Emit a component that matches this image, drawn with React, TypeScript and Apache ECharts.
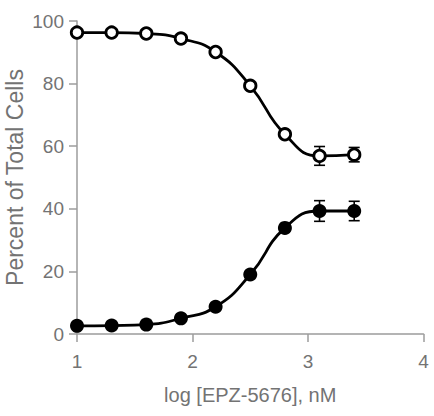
import React, { useEffect, useRef } from "react";
import * as echarts from "echarts";

const doses = [1, 1.3, 1.6, 1.9, 2.2, 2.5, 2.8, 3.1, 3.4];
const openValues = [96.3, 96.3, 96.0, 94.4, 90.1, 79.3, 63.8, 56.9, 57.3];
const openErrors = [0, 0, 0, 0, 0, 0, 0, 3.0, 2.3];
const filledValues = [2.6, 2.7, 3.0, 5.0, 8.7, 19.0, 33.9, 39.3, 39.3];
const filledErrors = [0, 0, 0, 0, 0, 0, 0, 3.3, 3.1];
const xTicks = [1, 2, 3, 4];
const yTicks = [0, 20, 40, 60, 80, 100];

const AXIS = "#9c9c9c";
const TEXT = "#737373";
const FONT = "'Liberation Sans', Arial, Helvetica, sans-serif";

function errorData(vals: number[], errs: number[]) {
  return doses
    .map((x, i) => [x, vals[i] - errs[i], vals[i] + errs[i], errs[i]])
    .filter((d) => d[3] > 0);
}

function renderError(params: any, api: any) {
  const x = api.value(0);
  const lo = api.coord([x, api.value(1)]);
  const hi = api.coord([x, api.value(2)]);
  const hw = 5.5;
  const style = { stroke: "#000", lineWidth: 1.6 };
  return {
    type: "group",
    children: [
      { type: "line", shape: { x1: lo[0], y1: lo[1], x2: hi[0], y2: hi[1] }, style },
      { type: "line", shape: { x1: lo[0] - hw, y1: lo[1], x2: lo[0] + hw, y2: lo[1] }, style },
      { type: "line", shape: { x1: hi[0] - hw, y1: hi[1], x2: hi[0] + hw, y2: hi[1] }, style },
    ],
  };
}

export default function App() {
  const ref = useRef<HTMLDivElement>(null);
  useEffect(() => {
    document.body.style.margin = "0";
    if (!ref.current) return;
    const chart = echarts.init(ref.current, undefined, { renderer: "svg" });
    chart.setOption({
      animation: false,
      backgroundColor: "#fff",
      grid: { left: 77, right: 10.5, top: 21, bottom: 82, outerBoundsMode: "none", containLabel: false },
      xAxis: {
        type: "value",
        min: xTicks[0],
        max: xTicks[xTicks.length - 1],
        interval: 1,
        name: "log [EPZ-5676], nM",
        nameLocation: "middle",
        nameGap: 51,
        nameMoveOverlap: false,
        nameTextStyle: { color: TEXT, fontSize: 20, fontFamily: FONT },
        axisLine: { onZero: false, lineStyle: { color: AXIS, width: 1.5 } },
        axisTick: { length: 8, lineStyle: { color: AXIS, width: 1.5 } },
        axisLabel: { color: TEXT, fontSize: 19, fontFamily: FONT, margin: 18 },
        splitLine: { show: false },
      },
      yAxis: {
        type: "value",
        min: yTicks[0],
        max: yTicks[yTicks.length - 1],
        interval: 20,
        name: "Percent of Total Cells",
        nameLocation: "middle",
        nameGap: 51,
        nameMoveOverlap: false,
        nameTextStyle: { color: TEXT, fontSize: 23, fontFamily: FONT },
        axisLine: { show: true, onZero: false, lineStyle: { color: AXIS, width: 1.5 } },
        axisTick: { show: true, length: 8, lineStyle: { color: AXIS, width: 1.5 } },
        axisLabel: { color: TEXT, fontSize: 19, fontFamily: FONT, margin: 13 },
        splitLine: { show: false },
      },
      series: [
        {
          type: "custom",
          renderItem: renderError,
          data: errorData(openValues, openErrors),
          z: 1,
        },
        {
          type: "custom",
          renderItem: renderError,
          data: errorData(filledValues, filledErrors),
          z: 1,
        },
        {
          type: "line",
          data: doses.map((x, i) => [x, openValues[i]]),
          smooth: 0.5,
          symbol: "circle",
          symbolSize: 11.5,
          lineStyle: { color: "#000", width: 2.8 },
          itemStyle: { color: "#fff", borderColor: "#000", borderWidth: 2.8 },
          z: 3,
        },
        {
          type: "line",
          data: doses.map((x, i) => [x, filledValues[i]]),
          smooth: 0.5,
          symbol: "circle",
          symbolSize: 14,
          lineStyle: { color: "#000", width: 2.8 },
          itemStyle: { color: "#000", borderColor: "#000", borderWidth: 0 },
          z: 3,
        },
      ],
    });
    return () => chart.dispose();
  }, []);
  return <div ref={ref} style={{ width: 434, height: 416 }} />;
}
